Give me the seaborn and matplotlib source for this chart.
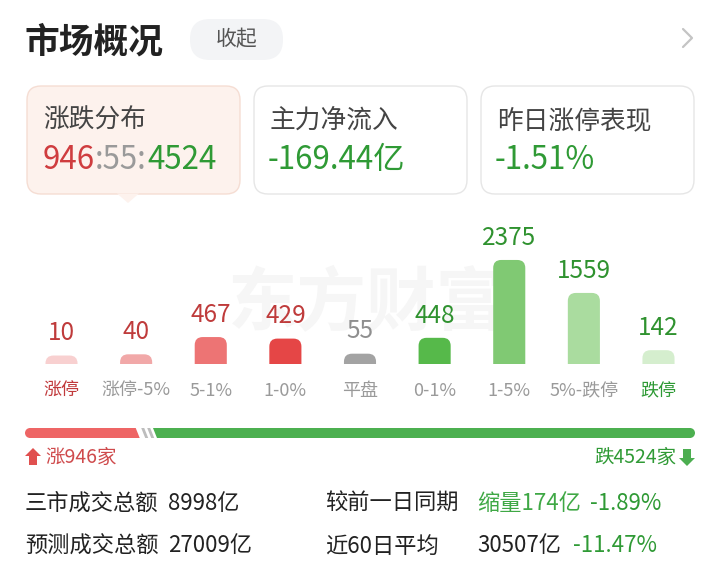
import numpy as np
import pandas as pd
import matplotlib
matplotlib.use('Agg')
import matplotlib.pyplot as plt
import seaborn as sns
from matplotlib.patches import FancyBboxPatch, Polygon, Circle

sns.set_theme(style="white")
plt.rcParams['font.family'] = ['Noto Sans CJK SC', 'DejaVu Sans']
plt.rcParams['axes.unicode_minus'] = False

# ==================== 数据 ====================
categories = ['涨停', '涨停-5%', '5-1%', '1-0%', '平盘', '0-1%', '1-5%', '5%-跌停', '跌停']
counts = [10, 40, 467, 429, 55, 448, 2375, 1559, 142]
bar_colors = ['#f8d0d0', '#f1a8a8', '#ed7474', '#e54646', '#a3a3a3',
              '#56b94a', '#80c973', '#aadc9f', '#d5eece']
value_colors = ['#bf3b3b'] * 4 + ['#8f8f8f'] + ['#2f922f'] * 4
label_colors = ['#c13a3c'] + ['#9a9a9a'] * 7 + ['#2e9a35']

n_up, n_flat, n_down = 946, 55, 4524
card_titles = ['涨跌分布', '主力净流入', '昨日涨停表现']
card_values = ['-169.44亿', '-1.51%']

rows = [
    ('三市成交总额', '8998亿', '较前一日同期', '缩量174亿', '-1.89%'),
    ('预测成交总额', '27009亿', '近60日平均', '30507亿', '-11.47%'),
]

RED = '#cf3d3f'
GREEN = '#2f9a35'
DARK = '#222222'

W, H = 720, 587
fig = plt.figure(figsize=(W / 100, H / 100), dpi=100)
fig.patch.set_facecolor('white')

# 背景层：像素坐标
bg = fig.add_axes([0, 0, 1, 1])
bg.set_xlim(0, W)
bg.set_ylim(H, 0)
bg.axis('off')

# 标题
bg.text(24, 42, '市场概况', fontsize=25, fontweight='bold', color=DARK, va='center', ha='left')
bg.add_patch(FancyBboxPatch((190, 19), 93, 41, boxstyle='round,pad=0,rounding_size=20',
                            fc='#f3f4f6', ec='none'))
bg.text(236.5, 39.5, '收起', fontsize=15, color='#555555', va='center', ha='center')
bg.plot([683, 692, 683], [29, 38, 47], color='#c4c4c4', lw=1.6, solid_capstyle='round')

# 三个卡片
card_x = [27, 254, 481]
for i, x0 in enumerate(card_x):
    fc = '#fdf2ed' if i == 0 else 'white'
    ec = '#f5ddd3' if i == 0 else '#e6e6e6'
    bg.add_patch(FancyBboxPatch((x0, 86), 213, 108, boxstyle='round,pad=0,rounding_size=14',
                                fc=fc, ec=ec, lw=1.0))
    bg.text(x0 + 16, 121, card_titles[i], fontsize=18.5, color='#444444', va='center', ha='left')
bg.add_patch(Polygon([(117, 193.5), (139, 193.5), (128, 203)], closed=True,
                     fc='#fdf2ed', ec='none'))

# 涨跌分布数值
t = bg.text(43, 160, str(n_up), fontsize=22.5, color=RED, va='center', ha='left')
t = bg.annotate(f':{n_flat}:', xycoords=t, xy=(1, 0), va='bottom', ha='left',
                fontsize=22.5, color='#9a9a9a')
bg.annotate(str(n_down), xycoords=t, xy=(1, 0), va='bottom', ha='left',
            fontsize=22.5, color=GREEN)
bg.text(268, 160, card_values[0], fontsize=22.5, color=GREEN, va='center', ha='left')
bg.text(495, 160, card_values[1], fontsize=22.5, color=GREEN, va='center', ha='left')

# 水印
bg.text(367, 304, '东方财富', fontsize=50, color='#f6f6f6', va='center', ha='center',
        fontweight='bold', style='italic', zorder=0)

# ==================== 柱状图 ====================
floor = 200
df = pd.DataFrame({'cat': categories, 'cnt': counts})
df['h'] = df['cnt'] + floor

x_left, x_right = 24.2, 695.8
y_base, y_top = 364, 220
ax = fig.add_axes([x_left / W, (H - y_base) / H, (x_right - x_left) / W, (y_base - y_top) / H])
ax.patch.set_alpha(0)
sns.barplot(data=df, x='cat', y='h', hue='cat', palette=bar_colors, legend=False,
            width=0.43, ax=ax, saturation=1)
ax.set_xlim(-0.5, len(categories) - 0.5)
ymax = (y_base - y_top) * 24.75
ax.set_ylim(0, ymax)

# 圆角柱顶
px_x = (len(categories)) / (x_right - x_left)
px_y = ymax / (y_base - y_top)
r = 8
for p in list(ax.patches):
    bx, bw, bh = p.get_x(), p.get_width(), p.get_height()
    fc = p.get_facecolor()
    p.set_visible(False)
    ax.add_patch(FancyBboxPatch((bx, -r * px_y), bw, bh + r * px_y,
                                boxstyle=f'round,pad=0,rounding_size={r * px_x}',
                                mutation_aspect=px_y / px_x, fc=fc, ec='none'))

for i, (c, h) in enumerate(zip(df['cnt'], df['h'])):
    ax.annotate(str(c), xy=(i, h), xytext=(0, 11), textcoords='offset points',
                ha='center', va='baseline', fontsize=17.5, color=value_colors[i])

ax.set_xlabel('')
ax.set_ylabel('')
ax.set_yticks([])
ax.tick_params(axis='x', length=0, pad=13)
ax.set_xticks(range(len(categories)))
ax.set_xticklabels(categories, fontsize=13)
for lab, col in zip(ax.get_xticklabels(), label_colors):
    lab.set_color(col)
sns.despine(ax=ax, left=True, bottom=True)

# ==================== 进度条 ====================
total = n_up + n_flat + n_down
bx0, bx1 = 25, 695
bw = bx1 - bx0
b1 = bx0 + bw * n_up / total
b2 = b1 + bw * n_flat / total
yt, yb = 428, 438
s = 4
bg.add_patch(Circle((bx0 + 5, 433), 5, fc='#ee6565', ec='none'))
bg.add_patch(Polygon([(bx0 + 5, yt), (b1 - 4, yt), (b1 - 4 + s, yb), (bx0 + 5, yb)],
                     fc='#ee6565', ec='none'))
for g0 in [b1 + 1.5, b1 + 7.5]:
    bg.add_patch(Polygon([(g0, yt), (g0 + 3, yt), (g0 + 3 + s, yb), (g0 + s, yb)],
                         fc='#bdbdbd', ec='none'))
g_start = b1 + 13.5
bg.add_patch(Polygon([(g_start, yt), (bx1 - 5, yt), (bx1 - 5, yb), (g_start + s, yb)],
                     fc='#4cb050', ec='none'))
bg.add_patch(Circle((bx1 - 5, 433), 5, fc='#4cb050', ec='none'))

# 箭头与文字
bg.add_patch(Polygon([(33, 448), (41, 456), (37, 456), (37, 465), (29, 465), (29, 456), (25, 456)],
                     fc='#e0504f', ec='none'))
bg.text(45, 457, f'涨{n_up}家', fontsize=14, color='#cf4a4c', va='center', ha='left')
bg.add_patch(Polygon([(687, 466), (695, 458), (691, 458), (691, 449), (683, 449), (683, 458), (679, 458)],
                     fc='#4cae50', ec='none'))
bg.text(676, 457, f'跌{n_down}家', fontsize=14, color=GREEN, va='center', ha='right')

# 成交额
for k, (l1, v1, l2, v2, v3) in enumerate(rows):
    y = 503 + 43 * k
    bg.text(25, y, l1, fontsize=16, color=DARK, va='center', ha='left')
    bg.text(168, y, v1, fontsize=16, color=DARK, va='center', ha='left')
    bg.text(325, y, l2, fontsize=16, color=DARK, va='center', ha='left')
    if k == 0:
        bg.text(477, y, v2, fontsize=16, color='#3fa845', va='center', ha='left')
        bg.text(590, y, v3, fontsize=16, color=GREEN, va='center', ha='left')
    else:
        bg.text(477, y, v2, fontsize=16, color=DARK, va='center', ha='left')
        bg.text(573, y, v3, fontsize=16, color=GREEN, va='center', ha='left')

fig.savefig('out.png', dpi=100, facecolor='white')
